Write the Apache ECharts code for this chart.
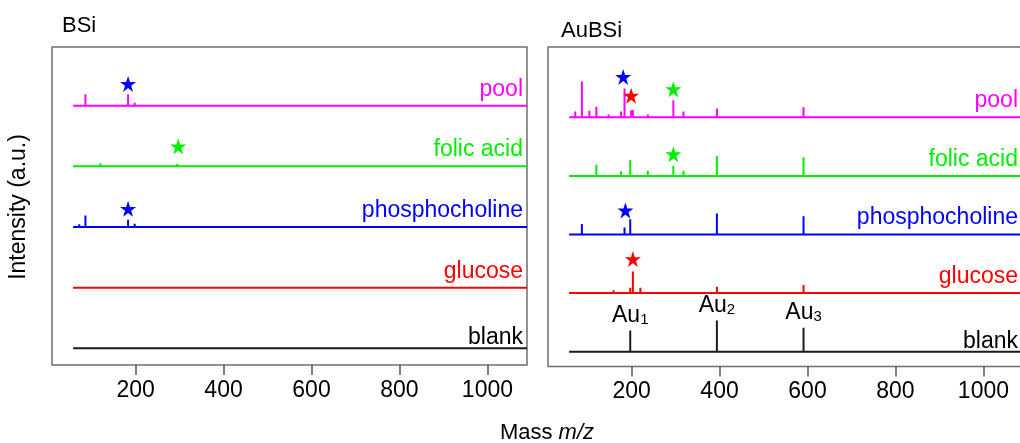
<!DOCTYPE html>
<html>
<head>
<meta charset="utf-8">
<script src="https://cdn.jsdelivr.net/npm/echarts@6/dist/echarts.min.js"></script>
<style>
  html, body { margin: 0; padding: 0; background: #fff; }
  #chart { width: 1020px; height: 443px; }
</style>
</head>
<body>
<div id="chart"></div>
<script>
// Sample names, bottom trace first
const sampleNames = ['blank', 'glucose', 'phosphocholine', 'folic acid', 'pool'];
const tickValues = [200, 400, 600, 800, 1000];
const mzStart = 58;
const mzEnd = 1090;

// BSi spectra: [m/z, relative intensity]
const bsiBlank = [[104, 1], [212, 1], [269, 1]];
const bsiGlucose = [[73, 1.5], [202, 2], [221, 1.5]];
const bsiPhosphocholine = [[72, 4.5], [86, 19], [104, 2], [167, 2], [183, 12], [198, 5.5], [504, 1]];
const bsiFolicAcid = [[72, 2], [120, 5], [176, 2], [201, 1.5], [217, 1.5], [295, 4.5], [316, 2]];
const bsiPool = [[72, 2], [86, 19], [104, 2], [123, 1.5], [139, 1.5], [153, 1.5], [167, 2], [183, 19], [198, 5], [295, 1], [504, 1]];

// AuBSi spectra: [m/z, relative intensity]
const aubsiBlank = [[197, 36], [394, 53], [591, 41]];
const aubsiGlucose = [[87, 1], [159, 5], [197, 9], [203, 37], [220, 9], [279, 3], [290, 3], [394, 11], [470, 1.5], [591, 14]];
const aubsiPhosphocholine = [[72, 3], [87, 18], [152, 2], [167, 2], [184, 12], [197, 26], [237, 2], [265, 2], [394, 36], [591, 31]];
const aubsiFolicAcid = [[72, 2], [98, 2], [120, 19], [176, 8], [197, 27], [220, 2], [237, 9], [295, 17], [318, 9], [394, 34], [591, 32]];
const aubsiPool = [[72, 10], [87, 61], [104, 11], [120, 18], [136, 3], [148, 5], [167, 3], [176, 10], [184, 49], [199, 12], [203, 12], [220, 3], [237, 5], [295, 29], [318, 10], [394, 15], [466, 2], [591, 17]];

// Analyte markers: [trace index, m/z, height above trace baseline, analyte]
const bsiStars = [[4, 183, 36, 'phosphocholine'], [3, 297, 33, 'folic acid'], [2, 183, 30, 'phosphocholine']];
const aubsiStars = [
  [4, 181, 69, 'phosphocholine'], [4, 199, 37, 'glucose'], [4, 295, 48, 'folic acid'],
  [3, 295, 37, 'folic acid'], [2, 186, 41, 'phosphocholine'], [1, 203, 58, 'glucose']
];

// Gold cluster annotations on the blank AuBSi trace
const goldClusters = ['1', '2', '3'];

// ---- styling / layout ----
const FONT = '"Liberation Sans", Arial, Helvetica, sans-serif';
const INK = '#000000';
const STEP = 100;   // vertical offset between stacked traces
const colorOf = {
  'blank': '#1a1a1a',
  'glucose': '#ff0000',
  'phosphocholine': '#0000ff',
  'folic acid': '#00ee00',
  'pool': '#ff00ff'
};
const STAR = 'path://M50,0 L61.8,35.4 L99,35.4 L68.9,57.3 L80.3,92.7 L50,70.8 L19.7,92.7 L31.1,57.3 L1,35.4 L38.2,35.4 Z';

const panels = [
  { traces: [bsiBlank, bsiGlucose, bsiPhosphocholine, bsiFolicAcid, bsiPool], stars: bsiStars,
    grid: { left: 52, top: 47, width: 475, height: 318 }, yMin: -27.5, yMax: 496.8, labelRight: 4 },
  { traces: [aubsiBlank, aubsiGlucose, aubsiPhosphocholine, aubsiFolicAcid, aubsiPool], stars: aubsiStars,
    grid: { left: 548, top: 47, width: 475, height: 319.5 }, yMin: -25.3, yMax: 520, labelRight: 5 }
];

function traceLine(peaks, idx) {
  const base = idx * STEP;
  const pts = [[mzStart, base]];
  peaks.slice().sort((a, b) => a[0] - b[0]).forEach(([mz, h]) => {
    pts.push([mz, base], [mz, base + h], [mz, base]);
  });
  pts.push([mzEnd, base]);
  return pts;
}

const grids = [], xAxes = [], yAxes = [], series = [];

panels.forEach((p, pi) => {
  grids.push(Object.assign({ show: true, borderColor: '#6e6e6e', borderWidth: 1.5,
    backgroundColor: 'transparent', containLabel: false, outerBoundsMode: 'none' }, p.grid));
  xAxes.push({
    gridIndex: pi, type: 'value', min: 10, max: 1090, position: 'bottom',
    axisLine: { show: false, onZero: false }, splitLine: { show: false },
    axisTick: { show: true, inside: false, length: 10, customValues: tickValues,
      lineStyle: { color: '#555', width: 1.5 } },
    axisLabel: { show: true, customValues: tickValues, fontSize: 23, fontFamily: FONT,
      color: INK, margin: 14, formatter: v => String(v) }
  });
  yAxes.push({ gridIndex: pi, type: 'value', show: false, min: p.yMin, max: p.yMax,
    splitLine: { show: false } });

  p.traces.forEach((peaks, idx) => {
    const name = sampleNames[idx];
    series.push({
      type: 'line', xAxisIndex: pi, yAxisIndex: pi, name,
      data: traceLine(peaks, idx), showSymbol: false, symbol: 'none',
      lineStyle: { color: colorOf[name], width: 2, join: 'bevel' },
      silent: true, animation: false, z: 2
    });
  });

  // trace names, right-aligned above each baseline
  series.push({
    type: 'scatter', xAxisIndex: pi, yAxisIndex: pi, symbolSize: 0, silent: true, animation: false,
    itemStyle: { opacity: 1 },
    data: sampleNames.map((name, idx) => ({
      value: [mzEnd, idx * STEP],
      label: {
        show: true, formatter: name, position: 'left', distance: p.labelRight,
        verticalAlign: 'bottom', offset: [0, idx === 0 ? 1 : -5],
        color: idx === 0 ? INK : colorOf[name], fontSize: 23, fontFamily: FONT
      }
    })),
    z: 3
  });

  // analyte stars
  series.push({
    type: 'scatter', xAxisIndex: pi, yAxisIndex: pi, symbol: STAR, symbolSize: 16,
    silent: true, animation: false, itemStyle: { opacity: 1 },
    data: p.stars.map(([idx, mz, h, analyte]) => ({
      value: [mz, idx * STEP + h], itemStyle: { color: colorOf[analyte], opacity: 1 }
    })),
    z: 4
  });
});

// Au cluster labels above the blank AuBSi peaks
series.push({
  type: 'scatter', xAxisIndex: 1, yAxisIndex: 1, symbolSize: 0, silent: true, animation: false,
  itemStyle: { opacity: 1 },
  data: aubsiBlank.map(([mz, h], i) => ({
    value: [mz, h],
    label: {
      show: true, position: 'top', distance: 3,
      formatter: 'Au{s|' + goldClusters[i] + '}',
      color: INK, fontSize: 23, fontFamily: FONT,
      rich: {
        s: { fontSize: 15, fontFamily: FONT, color: INK, lineHeight: 9, verticalAlign: 'bottom' }
      }
    }
  })),
  z: 4
});

const chart = echarts.init(document.getElementById('chart'), null, { renderer: 'canvas' });
chart.setOption({
  animation: false,
  backgroundColor: '#ffffff',
  grid: grids,
  xAxis: xAxes,
  yAxis: yAxes,
  series: series,
  graphic: [
    { type: 'text', left: 62, top: 15, style: { text: 'BSi', fontSize: 22, fontFamily: FONT, fill: INK } },
    { type: 'text', left: 561, top: 20, style: { text: 'AuBSi', fontSize: 22, fontFamily: FONT, fill: INK } },
    { type: 'text', x: 19, y: 207, rotation: Math.PI / 2,
      style: { text: 'Intensity (a.u.)', fontSize: 23, fontFamily: FONT, fill: INK,
        align: 'center', verticalAlign: 'middle' } },
    { type: 'text', x: 547, y: 433,
      style: { text: 'Mass {i|m/z}', fontSize: 22, fontFamily: FONT, fill: INK,
        align: 'center', verticalAlign: 'middle',
        rich: { i: { fontStyle: 'italic', fontSize: 22, fontFamily: FONT, fill: INK } } } }
  ]
});
</script>
</body>
</html>
